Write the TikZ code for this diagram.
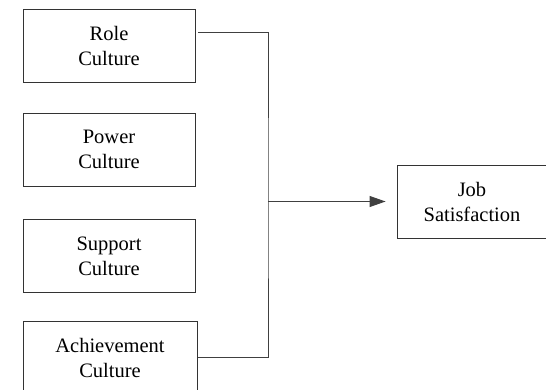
\documentclass[tikz,border=0pt]{standalone}
\usepackage{fontspec}
\setmainfont{Liberation Serif}
\newfontfamily\boxfont{Liberation Serif}
\usetikzlibrary{arrows.meta, positioning}

\begin{document}
\begin{tikzpicture}[x=1pt, y=-1pt,
    culturebox/.style={draw=black!80, line width=0.9pt, minimum width=172pt,
      minimum height=73pt, align=center, inner sep=0pt,
      font=\boxfont\fontsize{20.5}{25}\selectfont},
    link/.style={draw=black!75, line width=0.9pt}]

  % --- Cadre de l'image ---
  \useasboundingbox (0,0) rectangle (546,390);

  % --- Types de culture ---
  \node[culturebox] (role)    at (109,45.5)  {Role\\Culture};
  \node[culturebox] (power)   at (109,149.5) {Power\\Culture};
  \node[culturebox] (support) at (109,256)   {Support\\Culture};
  \node[culturebox, minimum width=174pt] (achieve) at (110,357.5) {Achievement\\Culture};

  % --- Variable dépendante ---
  \node[culturebox, minimum width=150pt] (job) at (472,201.5) {Job\\Satisfaction};

  % --- Connexions ---
  \coordinate (bus) at (268,201.5);
  \draw[link] ([shift={(3pt,13.5pt)}]role.east) -| (bus) |- ([xshift=1pt]achieve.east);
  \draw[link, -{Triangle[length=16pt, width=11pt]}, shorten >=11pt] (bus) -- (job.west);

\end{tikzpicture}
\end{document}
